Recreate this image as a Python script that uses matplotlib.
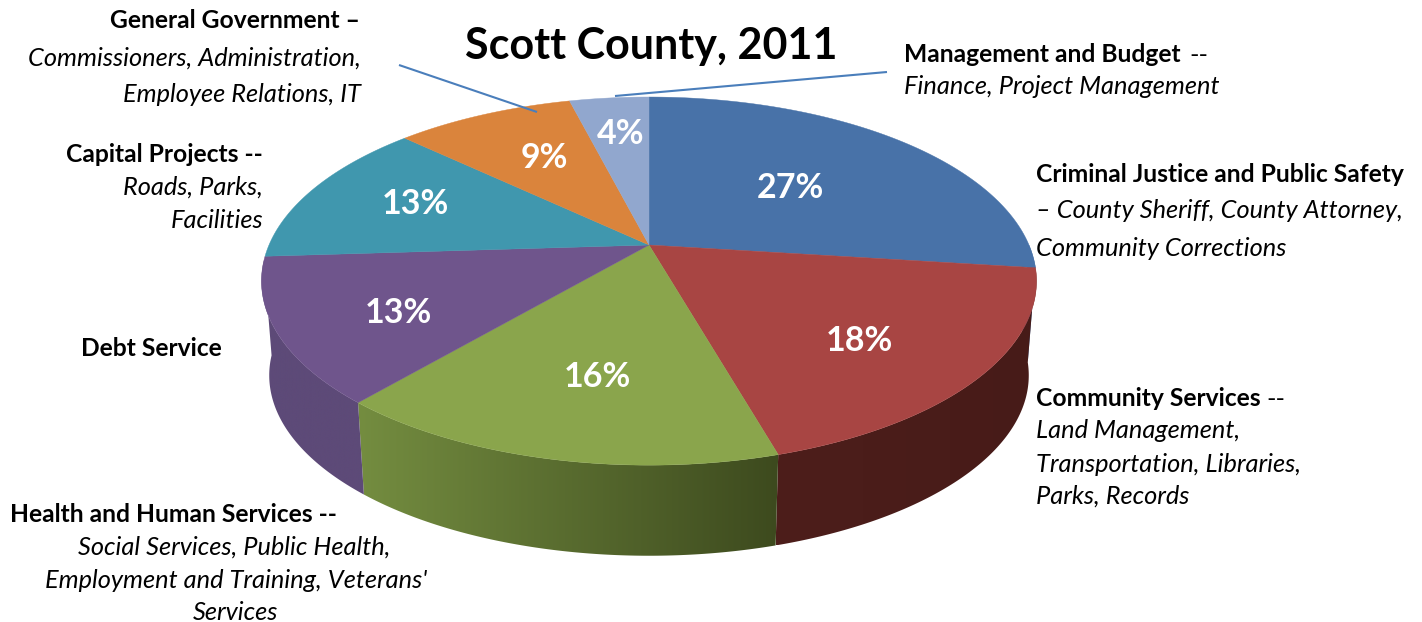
import matplotlib
matplotlib.use('Agg')
import matplotlib.pyplot as plt
from matplotlib.patches import Polygon
import numpy as np

# pie values in percent, clockwise from 12 o'clock
names = ['Criminal Justice', 'Community Services', 'Health and Human Services',
         'Debt Service', 'Capital Projects', 'General Government', 'Management and Budget']
values = [27.0, 18.55, 15.75, 12.7, 13.0, 9.0, 4.0]
pct_labels = ['27%', '18%', '16%', '13%', '13%', '9%', '4%']
top_colors = ['#4872a8', '#a84543', '#8aa54c', '#6f558c', '#4097ae', '#da843c', '#91a7ce']
side_left = ['#4872a8', '#4d1e1b', '#748d40', '#5d4a78', '#357f93', '#b86f30', '#7a8cad']
side_right = ['#4872a8', '#471b18', '#3d4a1e', '#5d4a78', '#357f93', '#b86f30', '#7a8cad']

label_pos = [(790, 186), (859, 339), (597, 375), (398, 311), (415, 202), (544, 156), (621, 132)]

# text lines: string, x, y, align, weight, style
bold = 'bold'
ital = 'italic'
lines = [
    ('General Government –', 360, 20, 'right', bold, 'normal'),
    ('Commissioners, Administration,', 361, 57, 'right', 'normal', ital),
    ('Employee Relations, IT', 361, 93, 'right', 'normal', ital),
    ('Capital Projects --', 263, 154, 'right', bold, 'normal'),
    ('Roads, Parks,', 263, 186, 'right', 'normal', ital),
    ('Facilities', 263, 219, 'right', 'normal', ital),
    ('Debt Service', 81, 348, 'left', bold, 'normal'),
    ('Health and Human Services --', 10, 514, 'left', bold, 'normal'),
    ('Social Services, Public Health,', 234, 546, 'center', 'normal', ital),
    ("Employment and Training, Veterans'", 236, 579, 'center', 'normal', ital),
    ('Services', 236, 611, 'center', 'normal', ital),
    ('Management and Budget', 904, 54, 'left', bold, 'normal'),
    ('--', 1189, 54, 'left', 'normal', 'normal'),
    ('Finance, Project Management', 904, 86, 'left', 'normal', ital),
    ('Criminal Justice and Public Safety', 1036, 173, 'left', bold, 'normal'),
    ('– County Sheriff, County Attorney,', 1036, 210, 'left', 'normal', ital),
    ('Community Corrections', 1036, 248, 'left', 'normal', ital),
    ('Community Services', 1036, 398, 'left', bold, 'normal'),
    ('--', 1266, 398, 'left', 'normal', 'normal'),
    ('Land Management,', 1036, 430, 'left', 'normal', ital),
    ('Transportation, Libraries,', 1036, 463, 'left', 'normal', ital),
    ('Parks, Records', 1036, 495, 'left', 'normal', ital),
]

# perspective of the disc
CX, CY = 649, 245
K = 0.196
A, B = 177.0, 380.0
DEPTH = 95
BOTTOM_SCALE = 0.98


def project(t, scale=1.0, dy=0):
    # t is degrees clockwise from the top of the pie
    r = np.radians(t)
    s = -np.cos(r)
    w = 1 - K * s
    return CX + scale * B * np.sin(r) / w, CY + dy + scale * A * s / w


fig = plt.figure(figsize=(14.22, 6.22), dpi=100)
ax = fig.add_axes([0, 0, 1, 1])

edges = np.concatenate([[0], np.cumsum(values)]) / sum(values) * 360

# side wall, a left to right gradient clipped to each slice
for i in range(len(values)):
    a0 = max(edges[i], 90)
    a1 = min(edges[i + 1], 265)
    if a1 <= a0:
        continue
    ts = np.linspace(a0, a1, 100)
    xt, yt = project(ts)
    xb, yb = project(ts, BOTTOM_SCALE, DEPTH)
    pts = np.c_[np.r_[xt, xb[::-1]], np.r_[yt, yb[::-1]]]
    x0, x1 = pts[:, 0].min(), pts[:, 0].max()
    y0, y1 = pts[:, 1].min(), pts[:, 1].max()
    c0 = np.array(matplotlib.colors.to_rgb(side_left[i]))
    c1 = np.array(matplotlib.colors.to_rgb(side_right[i]))
    f = np.linspace(0, 1, 256)[None, :, None]
    im = ax.imshow(c0 * (1 - f) + c1 * f, extent=(x0, x1, y1, y0), aspect='auto', zorder=1)
    clip = Polygon(pts, closed=True, transform=ax.transData)
    im.set_clip_path(clip)

# top of the disc
for i in range(len(values)):
    ts = np.linspace(edges[i], edges[i + 1], 120)
    xs, ys = project(ts)
    ax.fill(np.r_[CX, xs], np.r_[CY, ys], color=top_colors[i], lw=0.3, zorder=2)

# leader lines
ax.plot([399, 537], [65, 112], color='#4a7ebb', lw=1.5, solid_capstyle='butt', zorder=3)
ax.plot([887, 615], [72, 96], color='#4a7ebb', lw=1.5, solid_capstyle='butt', zorder=3)

ax.set_xlim(0, 1422)
ax.set_ylim(622, 0)
ax.axis('off')

FONT = 'Lato'
ax.text(651, 46, 'Scott County, 2011', ha='center', va='center', fontsize=31,
        fontweight='bold', family=FONT, color='black')

for lab, (x, y) in zip(pct_labels, label_pos):
    ax.text(x, y + 2, lab, ha='center', va='center', fontsize=24.5,
            fontweight='bold', family=FONT, color='white')

for txt, x, y, al, wt, st in lines:
    size = 17.7 if wt == bold else 18.3
    ax.text(x, y + 1, txt, ha=al, va='center', fontsize=size, fontweight=wt, style=st,
            family=FONT, color='black')

fig.savefig('out.png', dpi=100)
